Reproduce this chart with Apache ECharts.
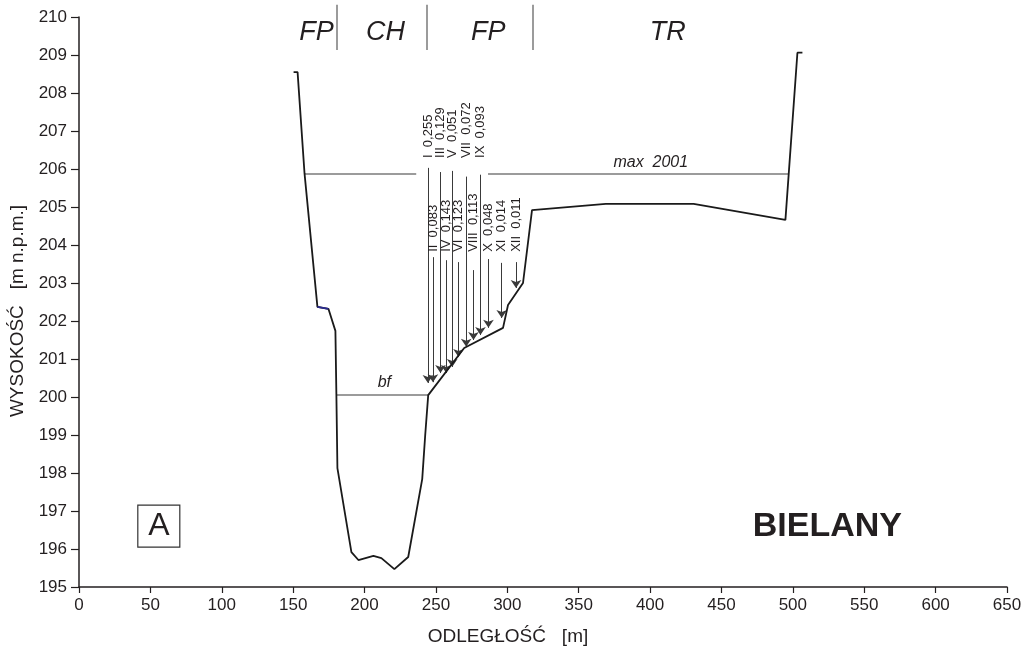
<!DOCTYPE html>
<html>
<head>
<meta charset="utf-8">
<script src="https://cdn.jsdelivr.net/npm/echarts@6/dist/echarts.min.js"></script>
<style>
html,body{margin:0;padding:0;background:#fff;}
#chart{width:1032px;height:651px;}
</style>
</head>
<body>
<div id="chart"></div>
<script>
// ---- Data ----
const profileX = [150.3,153.1,158.0,167.0,174.7,179.6,180.3,181.0,190.8,195.7,206.2,211.8,220.9,230.6,240.4,242.5,244.6,269.8,297.0,300.5,311.0,317.3,369.0,430.5,494.8,503.2,506.7];
const profileY = [208.55,208.55,205.87,202.37,202.32,201.74,200.0,198.13,195.92,195.71,195.82,195.76,195.47,195.79,197.84,199.0,200.05,201.29,201.82,202.42,203.0,204.92,205.08,205.08,204.66,209.06,209.06];
const blueX = [167.0,174.7];
const blueY = [202.37,202.32];

const maxLevel = 205.87;           // max 2001
const maxSegX = [[158.0,236.2],[286.5,496.9]];
const bfLevel = 200.05;            // bankfull
const bfX = [180.3,244.6];

const zoneNames = ['FP','CH','FP','TR'];
const zoneCenterX = [166.3,214.6,286.6,412.4];
const zoneBorderX = [180.3,243.9,318.0];

const months = ['I','II','III','IV','V','VI','VII','VIII','IX','X','XI','XII'];
const flows = [0.255,0.083,0.129,0.143,0.051,0.123,0.072,0.113,0.093,0.048,0.014,0.011];
const arrowX = [244.4,247.9,253.2,257.2,261.4,265.8,271.2,276.3,281.2,286.8,296.1,306.1];
const arrowTop = [206.03,203.68,205.92,203.60,205.95,203.55,205.80,203.34,205.85,203.63,203.53,203.55];
const arrowTip = [200.37,200.39,200.63,200.63,200.79,201.05,201.32,201.50,201.63,201.82,202.08,202.87];
const labelBaseY = [206.29,203.82,206.29,203.82,206.29,203.82,206.29,203.82,206.29,203.82,203.82,203.82];

const xTicksMin = 0, xTicksMax = 650, xTickStep = 50;
const yTicksMin = 195, yTicksMax = 210, yTickStep = 1;

// ---- Build ----
const FONT = 'Liberation Sans, Arial, Helvetica, sans-serif';
const INK = '#231f20';
const fmt = v => v.toFixed(3).replace('.', ',');

const profileData = profileX.map((x,i)=>[x, profileY[i]]);
const blueData = blueX.map((x,i)=>[x, blueY[i]]);

const segData = [];
maxSegX.forEach(s => segData.push({coords:[[s[0],maxLevel],[s[1],maxLevel]]}));
segData.push({coords:[[bfX[0],bfLevel],[bfX[1],bfLevel]]});
zoneBorderX.forEach(x => segData.push({coords:[[x,210.32],[x,209.13]]}));

const arrowData = months.map((m,i)=>({coords:[[arrowX[i],arrowTop[i]],[arrowX[i],arrowTip[i]]]}));
const monthLabelData = months.map((m,i)=>({value:[arrowX[i],labelBaseY[i]], name: m + '  ' + fmt(flows[i])}));

const zoneData = zoneNames.map((n,i)=>({value:[zoneCenterX[i],209.6], name:n}));

const textLabel = (size, extra) => Object.assign({
  show:true, position:'inside', formatter: p => p.name,
  fontFamily: FONT, fontSize:size, color:INK
}, extra||{});
const textSeries = (data, label, extra) => Object.assign({
  type:'scatter', symbolSize:0, silent:true, data:data,
  itemStyle:{opacity:1}, label:label
}, extra||{});

const option = {
  animation:false,
  backgroundColor:'#fff',
  grid:{left:77,right:25,top:17,bottom:64,containLabel:false},
  xAxis:{
    type:'value', min:xTicksMin, max:xTicksMax, interval:xTickStep,
    name:'ODLEGŁOŚĆ   [m]', nameLocation:'middle', nameGap:40,
    nameTextStyle:{fontFamily:FONT,fontSize:19,color:INK,padding:[0,70,0,0]},
    axisLine:{lineStyle:{color:INK,width:1.5}},
    axisTick:{length:6,lineStyle:{color:INK,width:1.2}},
    axisLabel:{fontFamily:FONT,fontSize:17,color:INK,margin:10},
    splitLine:{show:false}
  },
  yAxis:{
    type:'value', min:yTicksMin, max:yTicksMax, interval:yTickStep,
    name:'WYSOKOŚĆ   [m n.p.m.]', nameLocation:'middle', nameGap:52,
    nameTextStyle:{fontFamily:FONT,fontSize:19,color:INK,padding:[0,18,0,0]},
    axisLine:{lineStyle:{color:INK,width:1.5}},
    axisTick:{length:8,lineStyle:{color:INK,width:1.2}},
    axisLabel:{fontFamily:FONT,fontSize:17,color:INK,margin:12},
    splitLine:{show:false}
  },
  series:[
    { type:'lines', coordinateSystem:'cartesian2d', clip:false, silent:true,
      data:segData, symbol:'none',
      lineStyle:{color:'#7a7a7a',width:1.5,opacity:1} },
    { type:'lines', coordinateSystem:'cartesian2d', silent:true,
      data:arrowData, symbol:['none','arrow'], symbolSize:[5,8],
      lineStyle:{color:'#3a3a3a',width:1,opacity:1} },
    { type:'line', data:profileData, showSymbol:false, symbol:'none', clip:false,
      lineStyle:{color:'#1a1a1a',width:1.8}, z:3 },
    { type:'line', data:blueData, showSymbol:false, symbol:'none',
      lineStyle:{color:'#2a2a90',width:1.8}, z:4 },
    textSeries(monthLabelData, textLabel(13,{rotate:90,align:'left',verticalAlign:'middle'})),
    textSeries(zoneData, textLabel(27,{fontStyle:'italic'})),
    textSeries([{value:[400.5,206.18],name:'max  2001'}], textLabel(16,{fontStyle:'italic'})),
    textSeries([{value:[213.9,200.37],name:'bf'}], textLabel(16,{fontStyle:'italic'})),
    textSeries([{value:[524.2,196.6],name:'BIELANY'}], textLabel(34,{fontWeight:'bold'})),
    { type:'scatter', symbol:'rect', symbolSize:[42,42], silent:true,
      itemStyle:{color:'rgba(0,0,0,0)',borderColor:'#333',borderWidth:1.2,opacity:1},
      data:[{value:[55.9,196.6],name:'A'}],
      label:textLabel(32) }
  ]
};

const chart = echarts.init(document.getElementById('chart'), null, {renderer:'canvas'});
chart.setOption(option);
</script>
</body>
</html>
